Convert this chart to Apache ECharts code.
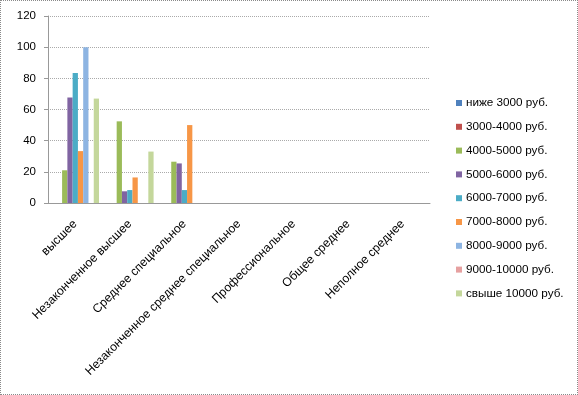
<!DOCTYPE html>
<html><head><meta charset="utf-8">
<script src="https://cdn.jsdelivr.net/npm/echarts@6/dist/echarts.min.js"></script>
<style>
html,body{margin:0;padding:0;background:#fff;}
#c{width:578px;height:395px;box-sizing:border-box;border:1px dotted #8a8a8a;}
</style></head>
<body><div id="c"></div>
<script>
const categories = ['высшее','Незаконченное высшее','Среднее специальное','Незаконченное среднее специальное','Профессиональное','Общее среднее','Неполное среднее'];
const seriesNames = ['ниже 3000 руб.','3000-4000 руб.','4000-5000 руб.','5000-6000 руб.','6000-7000 руб.','7000-8000 руб.','8000-9000 руб.','9000-10000 руб.','свыше 10000 руб.'];
const below3000   = [null,null,null,null,null,null,null];
const r3000_4000  = [null,null,null,null,null,null,null];
const r4000_5000  = [21,52.4,26.5,null,null,null,null];
const r5000_6000  = [67.7,7.5,25.4,null,null,null,null];
const r6000_7000  = [83.5,8.3,8.3,null,null,null,null];
const r7000_8000  = [33.3,16.4,50,null,null,null,null];
const r8000_9000  = [100,null,null,null,null,null,null];
const r9000_10000 = [null,null,null,null,null,null,null];
const above10000  = [67,33,null,null,null,null,null];
const yTicks = [0,20,40,60,80,100,120];

const values = [below3000,r3000_4000,r4000_5000,r5000_6000,r6000_7000,r7000_8000,r8000_9000,r9000_10000,above10000];
const colors = ['#4F81BD','#C0504D','#9BBB59','#8064A2','#4BACC6','#F79646','#8DB4E2','#E6A0A0','#C4D79B'];
const font = 'Liberation Sans';

const chart = echarts.init(document.getElementById('c'));
chart.setOption({
  animation:false,
  color: colors,
  textStyle:{fontFamily:font},
  grid:{left:47,top:15,right:147,bottom:191,containLabel:false},
  legend:{
    orient:'vertical', left:450, top:91,
    itemWidth:6, itemHeight:6, itemGap:11.8,
    icon:'rect',
    textStyle:{fontSize:11.7,color:'#000',fontFamily:font,padding:[0,0,0,-1]},
    data: seriesNames
  },
  xAxis:{
    type:'category', data:categories,
    axisLine:{lineStyle:{color:'#999',width:1}},
    axisTick:{alignWithLabel:false,length:4,lineStyle:{color:'#999'}},
    axisLabel:{rotate:45,interval:0,fontSize:12.2,color:'#000',margin:19,fontFamily:font}
  },
  yAxis:{
    type:'value', min:yTicks[0], max:yTicks[yTicks.length-1], interval:20,
    axisLine:{show:true,lineStyle:{color:'#999'}},
    axisTick:{show:true,length:4,lineStyle:{color:'#999'}},
    axisLabel:{fontSize:11.5,color:'#000',margin:12,fontFamily:font},
    splitLine:{lineStyle:{color:'#aaa',type:'dotted'}}
  },
  series: seriesNames.map((n,i)=>({
    name:n, type:'bar', data:values[i],
    barGap:'0%', barCategoryGap:'13%'
  }))
});
</script></body></html>
